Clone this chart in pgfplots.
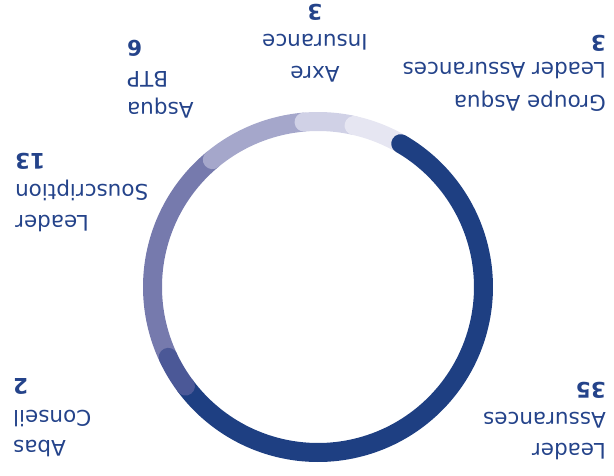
\documentclass[border=0pt]{standalone}
\usepackage{fontspec}
\setmainfont{DejaVu Sans}
\newfontfamily\djs{DejaVu Sans}
\usepackage{pgfplots}
\pgfplotsset{compat=1.18}
\definecolor{cDark}{HTML}{1E3F82}
\definecolor{cAbas}{HTML}{4B5897}
\definecolor{cLS}{HTML}{767AAD}
\definecolor{cBTP}{HTML}{A5A7CB}
\definecolor{cAxre}{HTML}{D0D1E6}
\definecolor{cGA}{HTML}{E6E6F2}
\definecolor{cText}{HTML}{24438A}
\tikzset{lbl/.style={rotate=180, inner sep=0pt, text=cText, font=\djs\fontsize{21.5}{26}\selectfont}}
\begin{document}
\begin{tikzpicture}
% data values: Leader Assurances 35, Abas Conseil 2, Leader Souscription 13,
% Asqua BTP 6, Axre Insurance 3, Groupe Asqua Leader Assurances 3
\def\tot{62}
\pgfmathsetmacro\sA{30}
\pgfmathsetmacro\eA{\sA+360*35/\tot}
\pgfmathsetmacro\eB{\eA+360*2/\tot}
\pgfmathsetmacro\eC{\eB+360*13/\tot}
\pgfmathsetmacro\eD{\eC+360*6/\tot}
\pgfmathsetmacro\eE{\eD+360*3/\tot}
\pgfmathsetmacro\eF{\eE+360*3/\tot}
\begin{axis}[width=614pt,height=475pt,scale only axis,
  xmin=0,xmax=614,ymin=0,ymax=475,y dir=reverse,
  hide axis, clip=false,
  ring/.style={line width=19pt, line cap=round, samples=120, variable=\t, no markers}]
\path (axis cs:0,0) rectangle (axis cs:614,475);
\addplot[ring, cLS, domain=\eB:\eC] ({318+165.5*sin(\t)},{287-165.5*cos(\t)});
\addplot[ring, cBTP, domain=\eC:\eD] ({318+165.5*sin(\t)},{287-165.5*cos(\t)});
\addplot[ring, cAxre, domain=\eD:\eE] ({318+165.5*sin(\t)},{287-165.5*cos(\t)});
\addplot[ring, cGA, domain=\eE:\eF] ({318+165.5*sin(\t)},{287-165.5*cos(\t)});
\addplot[ring, cDark, domain=\sA:\eA] ({318+165.5*sin(\t)},{287-165.5*cos(\t)});
\addplot[ring, cAbas, domain=\eA:\eB] ({318+165.5*sin(\t)},{287-165.5*cos(\t)});
% right-hand labels
\node[lbl, anchor=base west] at (axis cs:606,382) {\textbf{35}};
\node[lbl, anchor=base west] at (axis cs:606,412) {Assurances};
\node[lbl, anchor=base west] at (axis cs:606,443) {Leader};
\node[lbl, anchor=base west] at (axis cs:606,35) {\textbf{3}};
\node[lbl, anchor=base west] at (axis cs:606,62) {Leader Assurances};
\node[lbl, anchor=base west] at (axis cs:606,95) {Groupe Asqua};
% left-hand labels
\node[lbl, anchor=base east] at (axis cs:15,153) {\textbf{13}};
\node[lbl, anchor=base east] at (axis cs:15,184) {Souscription};
\node[lbl, anchor=base east] at (axis cs:15,215) {Leader};
\node[lbl, anchor=base east] at (axis cs:13,378) {\textbf{2}};
\node[lbl, anchor=base east] at (axis cs:13,410) {Conseil};
\node[lbl, anchor=base east] at (axis cs:13,440) {Abas};
\node[lbl, anchor=base east] at (axis cs:127,40) {\textbf{6}};
\node[lbl, anchor=base east] at (axis cs:127,71) {BTP};
\node[lbl, anchor=base east] at (axis cs:127,102) {Asqua};
% top centre label
\node[lbl, anchor=base] at (axis cs:315,4) {\textbf{3}};
\node[lbl, anchor=base] at (axis cs:315,34) {Insurance};
\node[lbl, anchor=base] at (axis cs:315,66) {Axre};
\end{axis}
\end{tikzpicture}
\end{document}
